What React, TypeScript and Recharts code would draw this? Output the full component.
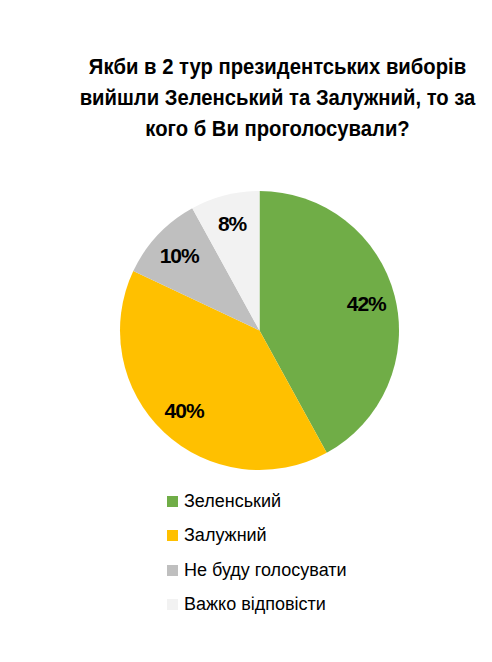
import { PieChart, Pie, Cell } from "recharts";

const candidates = ["Зеленський", "Залужний", "Не буду голосувати", "Важко відповісти"];
const shares = [42, 40, 10, 8];
const colors = ["#70AD47", "#FFC000", "#BFBFBF", "#F2F2F2"];
const titleLines = [
  "Якби в 2 тур президентських виборів",
  "вийшли Зеленський та Залужний, то за",
  "кого б Ви проголосували?",
];

const data = candidates.map((name, i) => ({ name, value: shares[i] }));

const FONT = "'Liberation Sans Narrow', 'Liberation Sans', Arial, sans-serif";
const RAD = Math.PI / 180;

function SliceLabel(props: any) {
  const { cx, cy, midAngle, outerRadius, value } = props;
  const r = outerRadius * 0.79;
  const x = cx + r * Math.cos(-midAngle * RAD);
  const y = cy + r * Math.sin(-midAngle * RAD);
  return (
    <text
      x={x}
      y={y}
      textAnchor="middle"
      dominantBaseline="central"
      fill="#000"
      fontFamily={FONT}
      fontWeight="bold"
      fontSize={21}
      letterSpacing={-1}
    >
      {`${value}%`}
    </text>
  );
}

export default function App() {
  return (
    <div
      style={{
        position: "absolute",
        left: 0,
        top: 0,
        width: 492,
        height: 662,
        background: "#fff",
      }}
    >
      <div
        style={{
          position: "absolute",
          top: 51,
          left: 0,
          width: 555,
          textAlign: "center",
          fontFamily: FONT,
          fontWeight: "bold",
          fontSize: 22,
          lineHeight: "31px",
          color: "#000",
          transform: "scaleX(0.92)",
          transformOrigin: "277.5px 0",
        }}
      >
        {titleLines.map((t) => (
          <div key={t}>{t}</div>
        ))}
      </div>
      <div style={{ position: "absolute", left: 0, top: 0 }}>
        <PieChart
          width={492}
          height={662}
          margin={{ top: 0, right: 0, bottom: 0, left: 0 }}
        >
          <Pie
            data={data}
            dataKey="value"
            nameKey="name"
            cx={259.5}
            cy={330.5}
            outerRadius={139.5}
            startAngle={90}
            endAngle={-270}
            stroke="none"
            label={SliceLabel}
            labelLine={false}
            isAnimationActive={false}
          >
            {data.map((d, i) => (
              <Cell key={d.name} fill={colors[i]} />
            ))}
          </Pie>
        </PieChart>
      </div>
      <div
        style={{
          position: "absolute",
          left: 167,
          top: 484,
          fontFamily: FONT,
          fontSize: 18,
          color: "#000",
        }}
      >
        {data.map((d, i) => (
          <div
            key={d.name}
            style={{ display: "flex", alignItems: "center", height: 34.5 }}
          >
            <span
              style={{
                display: "inline-block",
                width: 11,
                height: 11,
                background: colors[i],
                marginRight: 6,
              }}
            />
            {d.name}
          </div>
        ))}
      </div>
    </div>
  );
}
